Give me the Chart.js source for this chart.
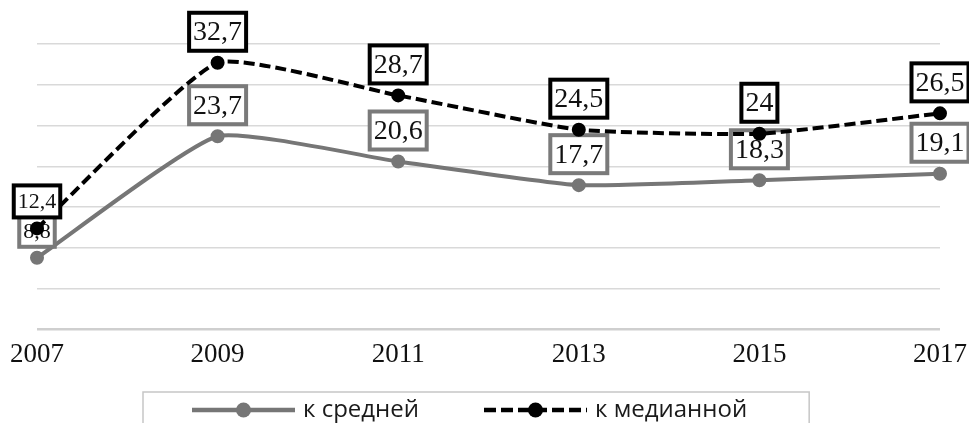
<!DOCTYPE html>
<html>
<head>
<meta charset="utf-8">
<script src="https://cdn.jsdelivr.net/npm/chart.js@4/dist/chart.umd.min.js"></script>
<style>
  html, body { margin: 0; padding: 0; background: #ffffff; }
  #wrap { width: 969px; height: 423px; position: relative; }
</style>
</head>
<body>
<div id="wrap"><canvas id="chart" width="969" height="423"></canvas></div>
<script>
// Years on the horizontal axis
const years = ['2007', '2009', '2011', '2013', '2015', '2017'];
// Ratio to the mean
const toMean = [8.8, 23.7, 20.6, 17.7, 18.3, 19.1];
// Ratio to the median
const toMedian = [12.4, 32.7, 28.7, 24.5, 24, 26.5];
// Series names
const seriesNames = ['к средней', 'к медианной'];

const GRAY = '#767676';
const BLACK = '#000000';
const SERIF = '"Liberation Serif", "Times New Roman", serif';
const SANS = '"Open Sans", "Noto Sans", sans-serif';

const fmt = v => String(v).replace('.', ',');

// Boxed value labels drawn right after each series, so the later series sits on top
const boxedLabels = {
  id: 'boxedLabels',
  afterDatasetDraw(chart, args) {
    const ds = chart.data.datasets[args.index];
    const ctx = chart.ctx;
    ctx.save();
    args.meta.data.forEach((pt, i) => {
      const size = i === 0 ? 22 : 28;
      const lift = i === 0 ? 27 : 31;
      const text = fmt(ds.data[i]);
      ctx.font = size + 'px ' + SERIF;
      const tw = ctx.measureText(text).width;
      const w = tw + 8;
      const h = size + 10;
      const cx = pt.x, cy = pt.y - lift;
      ctx.fillStyle = '#ffffff';
      ctx.fillRect(cx - w / 2, cy - h / 2, w, h);
      ctx.lineWidth = 4;
      ctx.strokeStyle = ds.labelBorder;
      ctx.strokeRect(cx - w / 2, cy - h / 2, w, h);
      ctx.fillStyle = '#111111';
      ctx.textAlign = 'center';
      ctx.textBaseline = 'middle';
      ctx.fillText(text, cx, cy + 1);
    });
    ctx.restore();
  }
};

// Legend in a framed strip under the axis labels
const framedLegend = {
  id: 'framedLegend',
  afterDraw(chart) {
    const ctx = chart.ctx;
    const y = 410;
    const sampleW = 103, textGap = 8, itemGap = 65;
    let x = 192;
    ctx.save();
    ctx.font = '24px ' + SANS;
    const start = x;
    chart.data.datasets.forEach(ds => {
      ctx.strokeStyle = ds.borderColor;
      ctx.lineWidth = 4.5;
      ctx.setLineDash(ds.borderDash && ds.borderDash.length ? [12, 5] : []);
      ctx.beginPath();
      ctx.moveTo(x, y);
      ctx.lineTo(x + sampleW, y);
      ctx.stroke();
      ctx.setLineDash([]);
      ctx.fillStyle = ds.pointBackgroundColor;
      ctx.beginPath();
      ctx.arc(x + sampleW / 2, y, 7.5, 0, Math.PI * 2);
      ctx.fill();
      ctx.fillStyle = '#1a1a1a';
      ctx.textAlign = 'left';
      ctx.textBaseline = 'middle';
      ctx.fillText(ds.label, x + sampleW + textGap, y);
      x += sampleW + textGap + ctx.measureText(ds.label).width + itemGap;
    });
    const end = x - itemGap;
    ctx.strokeStyle = '#c6c6c6';
    ctx.lineWidth = 1.5;
    ctx.strokeRect(start - 49, 392, (end + 62) - (start - 49), 50);
    ctx.restore();
  }
};

new Chart(document.getElementById('chart'), {
  type: 'line',
  data: {
    labels: years,
    datasets: [
      {
        label: seriesNames[0],
        data: toMean,
        borderColor: GRAY,
        backgroundColor: GRAY,
        pointBackgroundColor: GRAY,
        pointBorderColor: GRAY,
        labelBorder: '#7a7a7a',
        borderWidth: 4,
        pointRadius: 5,
        tension: 0.15,
        order: 2
      },
      {
        label: seriesNames[1],
        data: toMedian,
        borderColor: BLACK,
        backgroundColor: BLACK,
        pointBackgroundColor: BLACK,
        pointBorderColor: BLACK,
        labelBorder: BLACK,
        borderWidth: 4,
        borderDash: [11, 5],
        pointRadius: 5,
        tension: 0.15,
        order: 1
      }
    ]
  },
  options: {
    responsive: false,
    animation: false,
    layout: { padding: { left: 37, right: 28, top: 44, bottom: 50 } },
    plugins: {
      legend: { display: false },
      tooltip: { enabled: false }
    },
    scales: {
      x: {
        offset: false,
        grid: {
          display: true,
          drawOnChartArea: false,
          drawTicks: true,
          tickLength: 7,
          color: 'rgba(0,0,0,0)'
        },
        border: { display: false },
        ticks: {
          color: '#111111',
          padding: 2,
          maxRotation: 0,
          autoSkip: false,
          font: { family: SERIF, size: 27 }
        }
      },
      y: {
        min: 0,
        max: 35,
        border: { display: false },
        grid: {
          drawTicks: false,
          color: ctx => ctx.index === 0 ? '#cfcfcf' : '#d9d9d9',
          lineWidth: ctx => ctx.index === 0 ? 2.5 : 1.5
        },
        ticks: { display: false, stepSize: 5 }
      }
    }
  },
  plugins: [boxedLabels, framedLegend]
});
</script>
</body>
</html>
